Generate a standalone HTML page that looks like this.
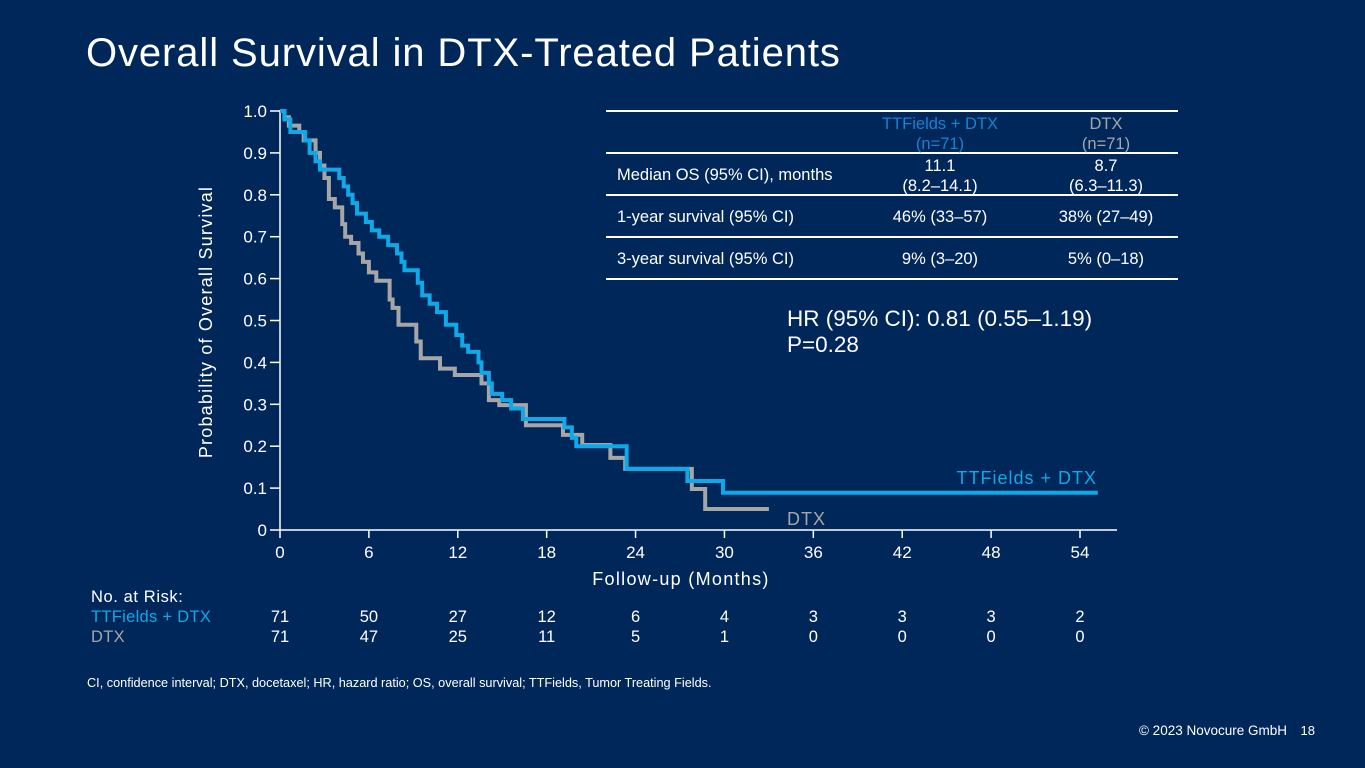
<!DOCTYPE html>
<html><head><meta charset="utf-8"><style>
html,body{margin:0;padding:0;background:#00275a;}
svg{display:block;font-family:"Liberation Sans",sans-serif;}
</style></head><body>
<svg id="chart" width="1365" height="768" viewBox="0 0 1365 768">
<rect width="1365" height="768" fill="#00275a"/>
<text x="86" y="66" font-size="40" fill="#ffffff" letter-spacing="0.9">Overall Survival in DTX-Treated Patients</text>
<g id="axes"></g>
<g id="curves"></g>
<text x="212" y="322" font-size="18" fill="#ffffff" letter-spacing="1.2" text-anchor="middle" transform="rotate(-90 212 322)">Probability of Overall Survival</text>
<text x="681" y="585" font-size="18" fill="#ffffff" letter-spacing="1.3" text-anchor="middle">Follow-up (Months)</text>
<text x="1097" y="484" font-size="18" fill="#0fa8e8" letter-spacing="1" text-anchor="end">TTFields + DTX</text>
<text x="787" y="525" font-size="18" fill="#a6a6a6" letter-spacing="1">DTX</text>
<g font-size="16.5" fill="#ffffff">
<line x1="606" y1="111" x2="1178" y2="111" stroke="#ffffff" stroke-width="2"/>
<line x1="606" y1="153" x2="1178" y2="153" stroke="#ffffff" stroke-width="2"/>
<line x1="606" y1="195" x2="1178" y2="195" stroke="#ffffff" stroke-width="2"/>
<line x1="606" y1="237" x2="1178" y2="237" stroke="#ffffff" stroke-width="2"/>
<line x1="606" y1="279" x2="1178" y2="279" stroke="#ffffff" stroke-width="2"/>
<text x="940" y="129" text-anchor="middle" fill="#1a80d0">TTFields + DTX</text>
<text x="940" y="149" text-anchor="middle" fill="#1a80d0">(n=71)</text>
<text x="1106" y="129" text-anchor="middle" fill="#a6a6a6">DTX</text>
<text x="1106" y="149" text-anchor="middle" fill="#a6a6a6">(n=71)</text>
<text x="617" y="180">Median OS (95% CI), months</text>
<text x="940" y="171" text-anchor="middle">11.1</text>
<text x="940" y="191" text-anchor="middle">(8.2–14.1)</text>
<text x="1106" y="171" text-anchor="middle">8.7</text>
<text x="1106" y="191" text-anchor="middle">(6.3–11.3)</text>
<text x="617" y="222">1-year survival (95% CI)</text>
<text x="940" y="222" text-anchor="middle">46% (33–57)</text>
<text x="1106" y="222" text-anchor="middle">38% (27–49)</text>
<text x="617" y="264">3-year survival (95% CI)</text>
<text x="940" y="264" text-anchor="middle">9% (3–20)</text>
<text x="1106" y="264" text-anchor="middle">5% (0–18)</text>
</g>
<text x="787" y="326" font-size="22.5" fill="#ffffff">HR (95% CI): 0.81 (0.55–1.19)</text>
<text x="787" y="352" font-size="22.5" fill="#ffffff">P=0.28</text>
<text x="91" y="602" font-size="16.5" fill="#ffffff" letter-spacing="0.6">No. at Risk:</text>
<text x="91" y="622" font-size="16.5" fill="#0fa8e8" letter-spacing="0.3">TTFields + DTX</text>
<text x="91" y="642" font-size="16.5" fill="#a6a6a6" letter-spacing="0.3">DTX</text>
<g id="risk"></g>
<text x="87" y="687" font-size="12.7" fill="#ffffff">CI, confidence interval; DTX, docetaxel; HR, hazard ratio; OS, overall survival; TTFields, Tumor Treating Fields.</text>
<text x="1287" y="735" font-size="13.5" fill="#ffffff" text-anchor="end">© 2023 Novocure GmbH</text>
<text x="1315" y="735" font-size="13" fill="#ffffff" text-anchor="end">18</text>
</svg>
<script>
const xTicks = [0,6,12,18,24,30,36,42,48,54];
const yTicks = [0,0.1,0.2,0.3,0.4,0.5,0.6,0.7,0.8,0.9,1.0];
const yTickLabels = ["0","0.1","0.2","0.3","0.4","0.5","0.6","0.7","0.8","0.9","1.0"];
const ttTimes = [0,0.3,0.7,1.7,2.0,2.4,2.7,4.0,4.3,4.6,4.9,5.2,5.8,6.2,6.7,7.3,7.9,8.2,8.4,9.3,9.6,10.1,10.6,11.2,11.9,12.3,12.7,13.4,13.6,14.1,14.3,15.0,15.6,16.4,19.2,19.7,20.0,23.4,27.5,29.9,55.2];
const ttSurv = [1.0,0.98,0.95,0.93,0.90,0.88,0.86,0.84,0.82,0.80,0.78,0.755,0.735,0.715,0.70,0.68,0.66,0.64,0.62,0.59,0.56,0.54,0.52,0.49,0.465,0.44,0.425,0.40,0.375,0.35,0.325,0.31,0.29,0.265,0.245,0.22,0.20,0.146,0.117,0.089,0.089];
const dtxTimes = [0,0.3,0.6,1.3,1.6,2.4,2.7,3.0,3.3,3.7,4.2,4.4,4.8,5.3,5.6,6.0,6.5,7.4,7.6,8.0,9.2,9.5,10.8,11.8,13.6,14.1,14.8,16.6,19.1,20.4,22.3,23.3,27.8,28.7,33.0];
const dtxSurv = [1.0,0.985,0.965,0.95,0.93,0.90,0.87,0.84,0.79,0.77,0.73,0.70,0.685,0.66,0.64,0.615,0.595,0.55,0.53,0.49,0.45,0.41,0.385,0.37,0.35,0.31,0.298,0.25,0.227,0.203,0.172,0.146,0.098,0.05,0.05];
const riskTT = [71,50,27,12,6,4,3,3,3,2];
const riskDTX = [71,47,25,11,5,1,0,0,0,0];

const NS = "http://www.w3.org/2000/svg";
const X = t => 280 + t * (800/54);
const Y = s => 530 - s * 419;
function mk(tag, attrs, parent){
  const e = document.createElementNS(NS, tag);
  for (const k in attrs) e.setAttribute(k, attrs[k]);
  parent.appendChild(e);
  return e;
}
const axes = document.getElementById('axes');
let el = mk('line',{x1:280,y1:110,x2:280,y2:531,stroke:'#ffffff','stroke-width':1.5},axes);


el = mk('line',{x1:279,y1:530,x2:1117,y2:530,stroke:'#ffffff','stroke-width':1.5},axes);


yTicks.forEach((v,i)=>{
  const t = mk('line',{x1:270,y1:Y(v),x2:280,y2:Y(v),stroke:'#ffffff','stroke-width':1.5},axes);
  
  
  const l = mk('text',{x:267,y:Y(v)+6,'font-size':17,fill:'#ffffff','text-anchor':'end'},axes);
  l.textContent = yTickLabels[i];
  
  
});
xTicks.forEach(v=>{
  const t = mk('line',{x1:X(v),y1:530,x2:X(v),y2:538,stroke:'#ffffff','stroke-width':1.5},axes);
  
  
  const l = mk('text',{x:X(v),y:558,'font-size':17,fill:'#ffffff','text-anchor':'middle'},axes);
  l.textContent = String(v);
  
  
});
function stepPath(ts, ss){
  let d = 'M' + X(ts[0]) + ' ' + Y(ss[0]);
  for (let i=1;i<ts.length;i++){
    d += ' H' + X(ts[i]) + ' V' + Y(ss[i]);
  }
  return d;
}
const curves = document.getElementById('curves');
el = mk('path',{d:stepPath(dtxTimes,dtxSurv),fill:'none',stroke:'#a6a6a6','stroke-width':4},curves);


el = mk('path',{d:stepPath(ttTimes,ttSurv),fill:'none',stroke:'#0fa8e8','stroke-width':4},curves);


const risk = document.getElementById('risk');
xTicks.forEach((v,i)=>{
  const a = mk('text',{x:X(v),y:622,'font-size':16.5,fill:'#ffffff','text-anchor':'middle'},risk);
  a.textContent = String(riskTT[i]);
  
  
  const b = mk('text',{x:X(v),y:642,'font-size':16.5,fill:'#ffffff','text-anchor':'middle'},risk);
  b.textContent = String(riskDTX[i]);
  
  
});
</script>
</body></html>
